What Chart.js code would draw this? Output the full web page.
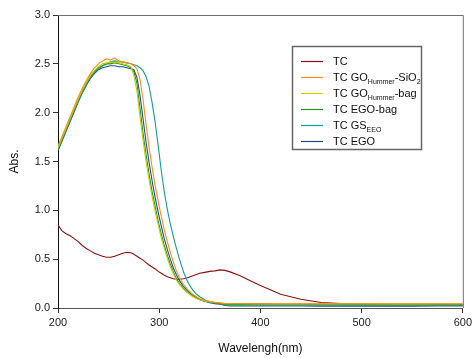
<!DOCTYPE html>
<html>
<head>
<meta charset="utf-8">
<script src="https://cdn.jsdelivr.net/npm/chart.js@4/dist/chart.umd.min.js"></script>
<style>
  body { margin: 0; background: #fff; }
</style>
</head>
<body>
<canvas id="uvChart" width="475" height="358"></canvas>
<script>
// wavelength grid (nm)
const wavelengths = [200,204,208,212,216,220,224,228,232,236,240,244,248,252,256,260,264,268,272,
  275,278,281,284,287,290,293,296,299,302,305,308,311,314,317,
  320,324,328,332,336,340,345,350,355,360,365,370,380,390,400,420,440,460,480,500,525,550,575,600];

const tc = [0.85,0.79,0.76,0.74,0.71,0.68,0.64,0.61,0.585,0.56,0.545,0.53,0.52,0.52,0.53,0.545,0.56,0.57,0.565,
  0.55,0.53,0.51,0.49,0.465,0.44,0.42,0.40,0.375,0.355,0.335,0.32,0.31,0.30,0.295,
  0.295,0.30,0.31,0.325,0.34,0.355,0.365,0.375,0.38,0.39,0.385,0.37,0.33,0.28,0.23,0.14,0.09,0.057,0.045,0.04,0.035,0.033,0.033,0.032];

const goSiO2 = [1.66,1.76,1.86,1.96,2.06,2.16,2.25,2.33,2.40,2.46,2.50,2.53,2.55,2.54,2.56,2.53,2.52,2.51,2.50,
  2.48,2.45,2.34,2.14,1.88,1.64,1.44,1.25,1.09,0.94,0.80,0.68,0.57,0.47,0.38,
  0.31,0.24,0.19,0.15,0.12,0.095,0.078,0.066,0.058,0.053,0.046,0.046,0.046,0.045,0.045,0.044,0.044,0.044,0.043,0.043,0.043,0.043,0.044,0.044];

const goBag = [1.64,1.74,1.84,1.94,2.04,2.14,2.23,2.31,2.38,2.43,2.47,2.50,2.51,2.52,2.51,2.52,2.50,2.49,2.47,
  2.38,2.22,1.96,1.72,1.50,1.31,1.14,0.99,0.85,0.72,0.61,0.51,0.42,0.35,0.285,
  0.24,0.19,0.155,0.125,0.10,0.085,0.072,0.063,0.057,0.053,0.045,0.045,0.045,0.044,0.044,0.044,0.043,0.043,0.043,0.043,0.042,0.042,0.043,0.043];

const egoBag = [1.63,1.73,1.83,1.93,2.03,2.13,2.22,2.30,2.37,2.42,2.46,2.48,2.50,2.50,2.51,2.50,2.49,2.48,2.46,
  2.42,2.30,2.05,1.79,1.57,1.37,1.19,1.04,0.89,0.76,0.64,0.54,0.45,0.37,0.30,
  0.25,0.20,0.16,0.13,0.105,0.085,0.07,0.06,0.052,0.047,0.036,0.035,0.035,0.035,0.034,0.034,0.034,0.034,0.033,0.033,0.033,0.033,0.034,0.034];

const gsEEO = [1.62,1.72,1.82,1.92,2.02,2.12,2.21,2.29,2.36,2.41,2.45,2.48,2.50,2.52,2.53,2.52,2.52,2.51,2.50,
  2.49,2.48,2.46,2.43,2.37,2.27,2.10,1.90,1.66,1.41,1.19,1.01,0.86,0.73,0.61,
  0.50,0.37,0.27,0.20,0.15,0.115,0.085,0.065,0.052,0.045,0.035,0.032,0.031,0.031,0.030,0.030,0.030,0.030,0.029,0.029,0.029,0.029,0.030,0.030];

const ego = [1.61,1.71,1.81,1.91,2.01,2.11,2.20,2.28,2.35,2.40,2.44,2.46,2.47,2.48,2.48,2.47,2.47,2.46,2.45,
  2.44,2.36,2.18,1.94,1.70,1.49,1.30,1.13,0.98,0.84,0.71,0.60,0.50,0.41,0.34,
  0.28,0.22,0.175,0.14,0.11,0.09,0.07,0.055,0.045,0.04,0.025,0.021,0.02,0.02,0.02,0.02,0.02,0.019,0.019,0.019,0.019,0.019,0.02,0.02];

const seriesNames = ['TC', 'TC GOHummer-SiO2', 'TC GOHummer-bag', 'TC EGO-bag', 'TC GSEEO', 'TC EGO'];
const seriesValues = [tc, goSiO2, goBag, egoBag, gsEEO, ego];
const seriesColors = ['#8b0f0f', '#ff8c1a', '#cccc00', '#1a9e1a', '#139c9c', '#1d4f8c'];

// legend text pieces, 'sub' parts drawn as subscripts
const legendLabels = [
  [['TC', '']],
  [['TC GO', ''], ['Hummer', 'sub'], ['-SiO', ''], ['2', 'sub']],
  [['TC GO', ''], ['Hummer', 'sub'], ['-bag', '']],
  [['TC EGO-bag', '']],
  [['TC GS', ''], ['EEO', 'sub']],
  [['TC EGO', '']]
];

const xTicks = [200, 300, 400, 500, 600];
const yTicks = [0.0, 0.5, 1.0, 1.5, 2.0, 2.5, 3.0];

const FONT = '"Liberation Sans", Arial, sans-serif';

// box on top/right + legend
const framePlugin = {
  id: 'frame',
  afterDatasetsDraw(chart) {
    const { ctx, chartArea: a } = chart;
    ctx.save();
    ctx.strokeStyle = '#707070';
    ctx.lineWidth = 1;
    ctx.beginPath();
    ctx.moveTo(a.left, a.top + 0.5);
    ctx.lineTo(a.right + 0.5, a.top + 0.5);
    ctx.lineTo(a.right + 0.5, a.bottom);
    ctx.stroke();

    // legend box
    const bx = 292.5, by = 46.5, bw = 129, bh = 103;
    ctx.fillStyle = '#fff';
    ctx.fillRect(bx, by, bw, bh);
    ctx.strokeStyle = '#666';
    ctx.lineWidth = 1.5;
    ctx.strokeRect(bx, by, bw, bh);

    legendLabels.forEach((parts, i) => {
      const y = 61 + i * 16;
      ctx.strokeStyle = seriesColors[i];
      ctx.lineWidth = 1.2;
      ctx.beginPath();
      ctx.moveTo(301, y + 0.5);
      ctx.lineTo(323, y + 0.5);
      ctx.stroke();
      let x = 333;
      ctx.fillStyle = '#111';
      ctx.textBaseline = 'alphabetic';
      ctx.textAlign = 'left';
      parts.forEach(([txt, kind]) => {
        if (kind === 'sub') {
          ctx.font = '7px ' + FONT;
          ctx.fillText(txt, x, y + 6.5);
        } else {
          ctx.font = '11px ' + FONT;
          ctx.fillText(txt, x, y + 4);
        }
        x += ctx.measureText(txt).width;
      });
    });
    ctx.restore();
  }
};

const ctx = document.getElementById('uvChart').getContext('2d');
new Chart(ctx, {
  type: 'line',
  data: {
    datasets: seriesValues.map((vals, i) => ({
      label: seriesNames[i],
      data: wavelengths.map((w, j) => ({ x: w, y: vals[j] })),
      borderColor: seriesColors[i],
      borderWidth: 1.1,
      pointRadius: 0,
      tension: 0,
      fill: false,
      order: i === 0 ? 10 : i
    }))
  },
  options: {
    responsive: false,
    animation: false,
    layout: { padding: { top: 15, right: 11, left: 0, bottom: 0 } },
    plugins: {
      legend: { display: false },
      tooltip: { enabled: false }
    },
    scales: {
      x: {
        type: 'linear',
        min: 200,
        max: 600,
        afterFit: s => { s.height = 50; },
        afterBuildTicks: s => { s.ticks = xTicks.map(v => ({ value: v })); },
        grid: { drawOnChartArea: false, drawTicks: true, tickLength: 5, color: '#333', tickWidth: 1 },
        border: { display: true, color: '#555', width: 1 },
        ticks: { color: '#222', padding: 3, font: { family: FONT, size: 11 }, maxRotation: 0 },
        title: { display: true, text: 'Wavelengh(nm)', color: '#111', font: { family: FONT, size: 12 }, padding: { top: 0, bottom: 2 } }
      },
      y: {
        min: 0,
        max: 3,
        afterFit: s => { s.width = 58; },
        afterBuildTicks: s => { s.ticks = yTicks.map(v => ({ value: v })); },
        grid: { drawOnChartArea: false, drawTicks: true, tickLength: 5, color: '#333', tickWidth: 1 },
        border: { display: true, color: '#111', width: 1 },
        ticks: { color: '#222', padding: 3, font: { family: FONT, size: 11 }, callback: v => v.toFixed(1) },
        title: { display: true, text: 'Abs.', color: '#111', font: { family: FONT, size: 12 }, padding: { top: 7, bottom: 0 } }
      }
    }
  },
  plugins: [framePlugin]
});
</script>
</body>
</html>
